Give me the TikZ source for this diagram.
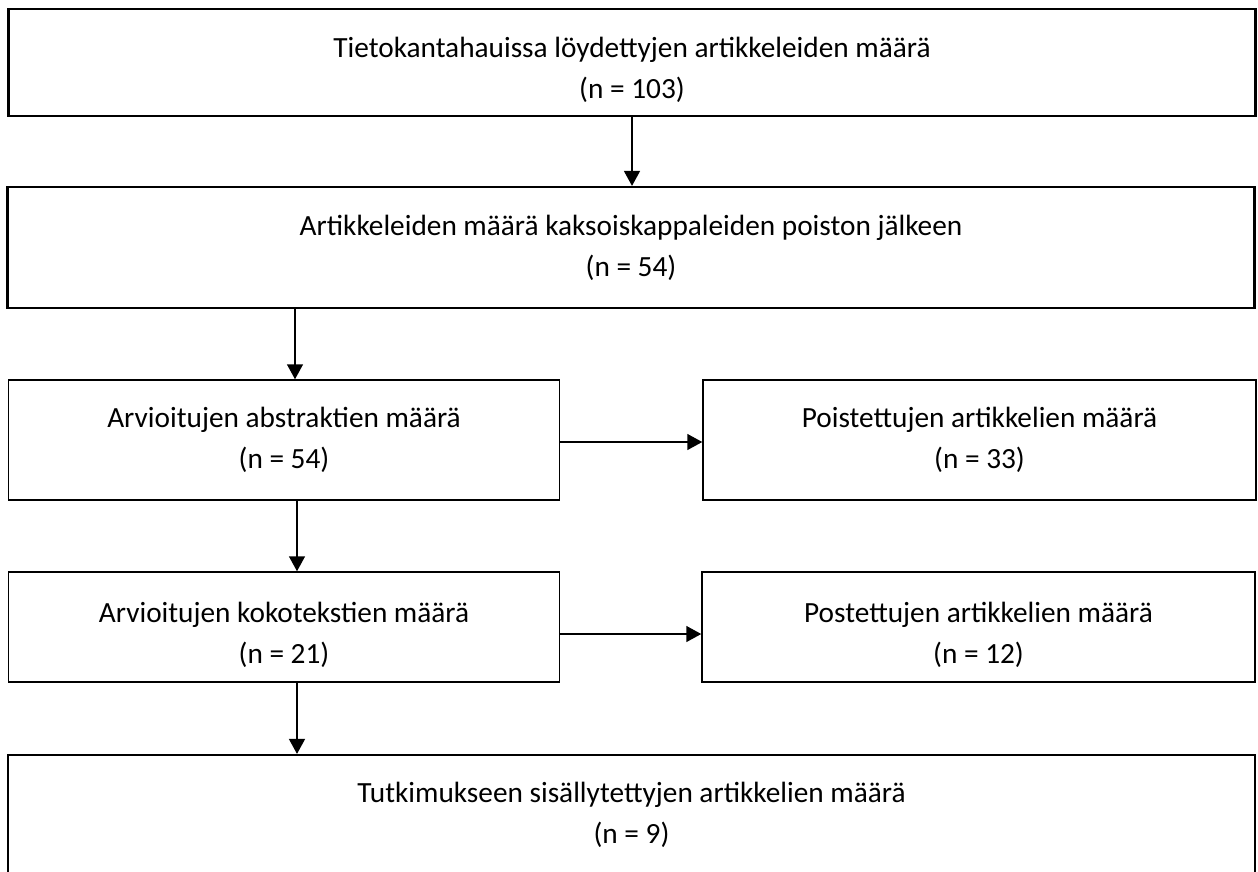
\documentclass[tikz,border=0pt]{standalone}
\usepackage{fontspec}
\setmainfont{Carlito}
\usetikzlibrary{positioning, arrows.meta}

\begin{document}
\begin{tikzpicture}[
        x=1pt, y=-1pt,
        box/.style={draw, line width=1.5pt, align=center, inner sep=0pt,
          minimum height=120pt, font=\fontsize{29.3}{41}\selectfont},
        widebox/.style={box, line width=2.2pt, minimum width=1247pt},
        halfbox/.style={box, minimum width=551pt},
        lowtext/.style={text height=#1},
        arr/.style={-{Triangle[length=15pt,width=16pt]}, line width=1.5pt}
      ]
      \clip (0,0) rectangle (1258,871);
      \node[widebox, minimum height=107pt, lowtext=77pt] (found) at (632,62.5)
        {Tietokantahauissa löydettyjen artikkeleiden määrä\\(n = 103)};
      \node[widebox, minimum height=121pt] (dedup) at (631,247.5)
        {Artikkeleiden määrä kaksoiskappaleiden poiston jälkeen\\(n = 54)};
      \node[halfbox] (abstracts) at (284,440)
        {Arvioitujen abstraktien määrä\\(n = 54)};
      \node[halfbox, minimum width=553pt] (absremoved) at (979.5,440)
        {Poistettujen artikkelien määrä\\(n = 33)};
      \node[halfbox, minimum height=110pt, lowtext=77pt] (fulltexts) at (284,627)
        {Arvioitujen kokotekstien määrä\\(n = 21)};
      \node[halfbox, minimum width=553pt, minimum height=110pt, lowtext=77pt] (ftremoved) at (978.5,627)
        {Postettujen artikkelien määrä\\(n = 12)};
      \node[widebox] (included) at (631.5,815)
        {Tutkimukseen sisällytettyjen artikkelien määrä\\(n = 9)};

      \draw[arr] (found.south) -- (found.south |- dedup.north);
      \draw[arr] ([xshift=11pt]abstracts.north |- dedup.south) -- ([xshift=11pt]abstracts.north);
      \draw[arr] ([yshift=-2pt]abstracts.east) -- ([yshift=-2pt]absremoved.west);
      \draw[arr] ([xshift=13pt]abstracts.south) -- ([xshift=13pt]fulltexts.north);
      \draw[arr] ([yshift=-7pt]fulltexts.east) -- ([yshift=-7pt]ftremoved.west);
      \draw[arr] ([xshift=13pt]fulltexts.south) -- ([xshift=13pt]fulltexts.south |- included.north);
      \end{tikzpicture}
\end{document}
